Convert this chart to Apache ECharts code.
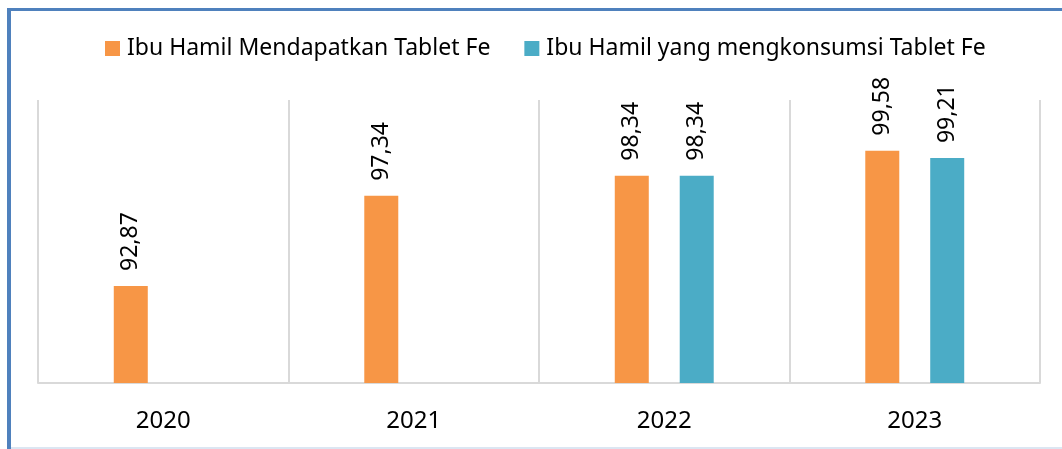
<!DOCTYPE html>
<html>
<head>
<meta charset="utf-8">
<script src="https://cdn.jsdelivr.net/npm/echarts@6/dist/echarts.min.js"></script>
<style>
  html, body { margin: 0; padding: 0; background: #fff; }
  #chart { width: 1062px; height: 449px; }
</style>
</head>
<body>
<div id="chart"></div>
<script>
const years = ["2020", "2021", "2022", "2023"];
const mendapatkan = [92.87, 97.34, 98.34, 99.58];
const mengkonsumsi = [null, null, 98.34, 99.21];
const seriesNames = ["Ibu Hamil Mendapatkan Tablet Fe", "Ibu Hamil yang mengkonsumsi Tablet Fe"];

const font = "Noto Sans";

// angka pakai koma desimal
const fmt = (p) => p.value == null ? "" : p.value.toFixed(2).replace(".", ",");

const labelOpt = {
  show: true,
  position: "top",
  rotate: 90,
  align: "left",
  verticalAlign: "middle",
  distance: 15,
  fontFamily: font,
  fontSize: 23,
  color: "#000",
  formatter: fmt,
};

const chart = echarts.init(document.getElementById("chart"));
chart.setOption({
  animation: false,
  backgroundColor: "#fff",
  legend: {
    top: 32,
    left: 100,
    itemWidth: 15,
    itemHeight: 15,
    itemGap: 34,
    icon: "rect",
    textStyle: { fontFamily: font, fontSize: 23, color: "#000", padding: [0, 0, 0, 2] },
    data: seriesNames,
  },
  grid: { left: 38, right: 22, top: 100, bottom: 66 },
  xAxis: {
    type: "category",
    data: years,
    axisLine: { lineStyle: { color: "#d9d9d9", width: 2 } },
    axisTick: { show: false },
    splitLine: { show: true, lineStyle: { color: "#d9d9d9", width: 2 } },
    axisLabel: { fontFamily: font, fontSize: 24, color: "#000", margin: 26 },
  },
  yAxis: {
    type: "value",
    min: 88.06,
    max: 102.09,
    show: false,
    splitLine: { show: false },
  },
  series: [
    {
      name: seriesNames[0],
      type: "bar",
      data: mendapatkan,
      barWidth: 34,
      barGap: "91%",
      itemStyle: { color: "#f79646" },
      label: labelOpt,
    },
    {
      name: seriesNames[1],
      type: "bar",
      data: mengkonsumsi,
      barWidth: 34,
      itemStyle: { color: "#4bacc6" },
      label: labelOpt,
    },
  ],
  graphic: [
    { type: "rect", shape: { x: 7, y: 8, width: 1080, height: 3 }, style: { fill: "#4f81bd" } },
    { type: "rect", shape: { x: 7, y: 8, width: 4, height: 460 }, style: { fill: "#4f81bd" } },
    { type: "rect", shape: { x: 11, y: 447, width: 1060, height: 2 }, style: { fill: "#dce6f2" } },
  ],
});
</script>
</body>
</html>
